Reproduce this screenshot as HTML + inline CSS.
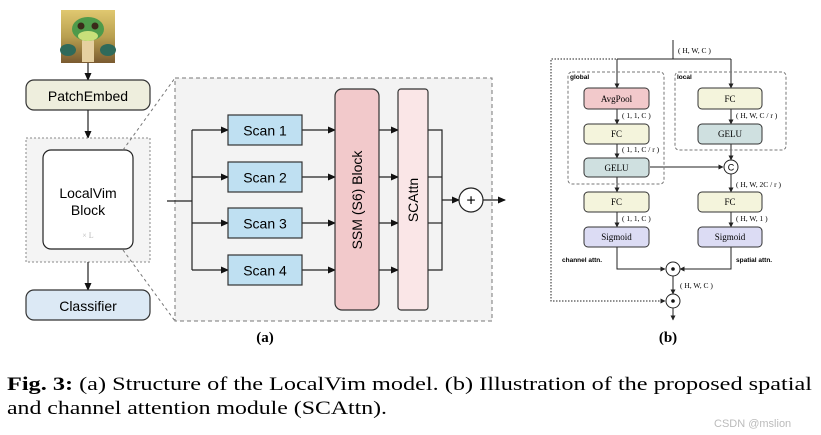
<!DOCTYPE html>
<html><head><meta charset="utf-8"><style>
body{margin:0;background:#fff;width:821px;height:435px;overflow:hidden}
svg{display:block}
.s{font-family:"Liberation Sans",sans-serif}
.r{font-family:"Liberation Serif",serif}
</style></head><body>
<svg width="821" height="435" viewBox="0 0 821 435" xmlns="http://www.w3.org/2000/svg">
<defs>
<marker id="a" markerWidth="8" markerHeight="8" refX="7" refY="4" orient="auto" markerUnits="userSpaceOnUse"><path d="M0,0.5 L8,4 L0,7.5z" fill="#111"/></marker>
<marker id="b" markerWidth="5" markerHeight="5" refX="4.5" refY="2.5" orient="auto" markerUnits="userSpaceOnUse"><path d="M0,0 L5,2.5 L0,5z" fill="#222"/></marker>
<linearGradient id="g" x1="0" y1="0" x2="0" y2="1"><stop offset="0" stop-color="#e0c870"/><stop offset="0.5" stop-color="#b9a050"/><stop offset="1" stop-color="#7a5a30"/></linearGradient>
</defs>
<!-- panel a -->
<rect x="61" y="10" width="54" height="53" fill="url(#g)"/>
<ellipse cx="68" cy="50" rx="8" ry="6" fill="#2f6a5a"/>
<ellipse cx="108" cy="50" rx="8" ry="6" fill="#2f6a5a"/>
<rect x="82" y="40" width="12" height="22" fill="#e6d0a0"/>
<ellipse cx="88" cy="29" rx="16" ry="12" fill="#4e9a4a"/>
<ellipse cx="88" cy="36" rx="10" ry="5" fill="#c8e07a"/>
<circle cx="81" cy="26" r="3.5" fill="#3a2a1a"/><circle cx="95" cy="26" r="3.5" fill="#3a2a1a"/>
<line x1="88" y1="63" x2="88" y2="80" stroke="#222" stroke-width="1.2" marker-end="url(#a)"/>
<rect x="26" y="80" width="124" height="30" rx="8" fill="#eeeedd" stroke="#333" stroke-width="1.2"/>
<text x="88" y="101" class="s" font-size="14" text-anchor="middle">PatchEmbed</text>
<line x1="88" y1="110" x2="88" y2="138" stroke="#222" stroke-width="1.2" marker-end="url(#a)"/>
<rect x="26" y="138" width="124" height="124" fill="#f4f4f4" stroke="#888" stroke-dasharray="2,2"/>
<rect x="43" y="150" width="90" height="99" rx="8" fill="#fff" stroke="#222" stroke-width="1.2"/>
<text x="88" y="198" class="s" font-size="14" text-anchor="middle">LocalVim</text>
<text x="88" y="215" class="s" font-size="14" text-anchor="middle">Block</text>
<text x="88" y="238" class="r" font-size="8" fill="#bbb" text-anchor="middle">× L</text>
<line x1="88" y1="262" x2="88" y2="290" stroke="#222" stroke-width="1.2" marker-end="url(#a)"/>
<rect x="26" y="290" width="124" height="30" rx="8" fill="#dce9f5" stroke="#333" stroke-width="1.2"/>
<text x="88" y="311" class="s" font-size="14" text-anchor="middle">Classifier</text>
<line x1="123" y1="150" x2="175" y2="78" stroke="#777" stroke-dasharray="3,3"/>
<line x1="123" y1="250" x2="175" y2="321" stroke="#777" stroke-dasharray="3,3"/>
<rect x="175" y="78" width="317" height="243" fill="#f3f3f3" stroke="#777" stroke-dasharray="4,3"/>
<g stroke="#222" stroke-width="1.2" fill="none">
<line x1="167" y1="201" x2="192" y2="201"/>
<line x1="192" y1="130" x2="192" y2="270"/>
<line x1="192" y1="130" x2="228" y2="130" marker-end="url(#a)"/>
<line x1="192" y1="177" x2="228" y2="177" marker-end="url(#a)"/>
<line x1="192" y1="223" x2="228" y2="223" marker-end="url(#a)"/>
<line x1="192" y1="270" x2="228" y2="270" marker-end="url(#a)"/>
<line x1="302" y1="130" x2="335" y2="130" marker-end="url(#a)"/>
<line x1="302" y1="177" x2="335" y2="177" marker-end="url(#a)"/>
<line x1="302" y1="223" x2="335" y2="223" marker-end="url(#a)"/>
<line x1="302" y1="270" x2="335" y2="270" marker-end="url(#a)"/>
<line x1="379" y1="130" x2="398" y2="130" marker-end="url(#a)"/>
<line x1="379" y1="177" x2="398" y2="177" marker-end="url(#a)"/>
<line x1="379" y1="223" x2="398" y2="223" marker-end="url(#a)"/>
<line x1="379" y1="270" x2="398" y2="270" marker-end="url(#a)"/>
<polyline points="428,130 442,130 442,270 428,270"/>
<line x1="428" y1="177" x2="442" y2="177"/>
<line x1="428" y1="223" x2="442" y2="223"/>
<line x1="442" y1="200" x2="459" y2="200" marker-end="url(#a)"/>
<line x1="483" y1="200" x2="505" y2="200" marker-end="url(#a)"/>
</g>
<g class="s" font-size="14" text-anchor="middle">
<rect x="228" y="115" width="74" height="30" fill="#bfe0f2" stroke="#333" stroke-width="1.2"/><text x="265" y="135.5">Scan 1</text>
<rect x="228" y="162" width="74" height="30" fill="#bfe0f2" stroke="#333" stroke-width="1.2"/><text x="265" y="182.5">Scan 2</text>
<rect x="228" y="208" width="74" height="30" fill="#bfe0f2" stroke="#333" stroke-width="1.2"/><text x="265" y="228.5">Scan 3</text>
<rect x="228" y="255" width="74" height="30" fill="#bfe0f2" stroke="#333" stroke-width="1.2"/><text x="265" y="275.5">Scan 4</text>
</g>
<rect x="335" y="89" width="44" height="221" rx="7" fill="#f2c9cb" stroke="#333" stroke-width="1.2"/>
<text transform="translate(362,200) rotate(-90)" class="s" font-size="14" text-anchor="middle">SSM (S6) Block</text>
<rect x="398" y="89" width="30" height="221" rx="3" fill="#fae6e7" stroke="#333" stroke-width="1.2"/>
<text transform="translate(418,200) rotate(-90)" class="s" font-size="14" text-anchor="middle">SCAttn</text>
<circle cx="471" cy="200" r="12" fill="#fff" stroke="#222" stroke-width="1.2"/>
<text x="471" y="205.5" class="s" font-size="16" text-anchor="middle">+</text>
<text x="265" y="342" class="r" font-size="15" font-weight="bold" text-anchor="middle">(a)</text>

<!-- panel b -->
<g stroke="#222" stroke-width="1" fill="none">
<line x1="673" y1="40" x2="673" y2="59"/>
<line x1="617" y1="59" x2="731" y2="59"/>
<line x1="617" y1="59" x2="617" y2="88" marker-end="url(#b)"/>
<line x1="731" y1="59" x2="731" y2="88" marker-end="url(#b)"/>
<polyline points="673,59 551,59 551,301 665,301" stroke-dasharray="1.5,1.5" marker-end="url(#b)"/>
<line x1="617" y1="109" x2="617" y2="124" marker-end="url(#b)"/>
<line x1="617" y1="144" x2="617" y2="158" marker-end="url(#b)"/>
<line x1="617" y1="177" x2="617" y2="192" marker-end="url(#b)"/>
<line x1="617" y1="212" x2="617" y2="227" marker-end="url(#b)"/>
<line x1="731" y1="109" x2="731" y2="124" marker-end="url(#b)"/>
<line x1="731" y1="144" x2="731" y2="160" marker-end="url(#b)"/>
<line x1="650" y1="167" x2="723" y2="167" marker-end="url(#b)"/>
<line x1="731" y1="174" x2="731" y2="192" marker-end="url(#b)"/>
<line x1="731" y1="212" x2="731" y2="227" marker-end="url(#b)"/>
<polyline points="617,247 617,269 665,269" marker-end="url(#b)"/>
<polyline points="731,247 731,269 680,269" marker-end="url(#b)"/>
<line x1="673" y1="276" x2="673" y2="294" marker-end="url(#b)"/>
<line x1="673" y1="308" x2="673" y2="320" marker-end="url(#b)"/>
</g>
<rect x="568" y="72" width="96" height="112" rx="4" fill="none" stroke="#777" stroke-dasharray="3,2"/>
<rect x="675" y="72" width="111" height="78" rx="4" fill="none" stroke="#777" stroke-dasharray="3,2"/>
<g class="r" font-size="9" text-anchor="middle">
<rect x="584" y="88" width="65" height="21" rx="4" fill="#f2c9cb" stroke="#333"/><text x="616.5" y="102">AvgPool</text>
<rect x="584" y="124" width="65" height="20" rx="4" fill="#f4f4dc" stroke="#333"/><text x="616.5" y="137">FC</text>
<rect x="584" y="158" width="65" height="19" rx="4" fill="#cfe0e0" stroke="#333"/><text x="616.5" y="171">GELU</text>
<rect x="584" y="192" width="65" height="20" rx="4" fill="#f4f4dc" stroke="#333"/><text x="616.5" y="205">FC</text>
<rect x="584" y="227" width="65" height="20" rx="4" fill="#dcdcf4" stroke="#333"/><text x="616.5" y="240">Sigmoid</text>
<rect x="698" y="88" width="64" height="21" rx="4" fill="#f4f4dc" stroke="#333"/><text x="730" y="102">FC</text>
<rect x="698" y="124" width="64" height="20" rx="4" fill="#cfe0e0" stroke="#333"/><text x="730" y="137">GELU</text>
<rect x="698" y="192" width="64" height="20" rx="4" fill="#f4f4dc" stroke="#333"/><text x="730" y="205">FC</text>
<rect x="698" y="227" width="64" height="20" rx="4" fill="#dcdcf4" stroke="#333"/><text x="730" y="240">Sigmoid</text>
</g>
<circle cx="731" cy="167" r="7" fill="#fff" stroke="#222"/>
<text x="731" y="170.5" class="s" font-size="9" text-anchor="middle">C</text>
<circle cx="673" cy="269" r="7" fill="#fff" stroke="#222"/><circle cx="673" cy="269" r="1.8" fill="#111"/>
<circle cx="673" cy="301" r="7" fill="#fff" stroke="#222"/><circle cx="673" cy="301" r="1.8" fill="#111"/>
<g class="r" font-size="7.5">
<text x="678" y="53">( H, W, C )</text>
<text x="622" y="118">( 1, 1, C )</text>
<text x="622" y="152">( 1, 1, C / r )</text>
<text x="622" y="221">( 1, 1, C )</text>
<text x="736" y="118">( H, W, C / r )</text>
<text x="736" y="187">( H, W, 2C / r )</text>
<text x="736" y="221">( H, W, 1 )</text>
<text x="680" y="288">( H, W, C )</text>
</g>
<g class="s" font-size="6.5" font-weight="bold">
<text x="570" y="79">global</text>
<text x="677" y="79">local</text>
<text x="562" y="262">channel attn.</text>
<text x="736" y="262">spatial attn.</text>
</g>
<text x="668" y="342" class="r" font-size="15" font-weight="bold" text-anchor="middle">(b)</text>

<!-- caption -->
<text x="7" y="390" class="r" font-size="19" textLength="805" lengthAdjust="spacingAndGlyphs"><tspan font-weight="bold">Fig. 3:</tspan> (a) Structure of the LocalVim model. (b) Illustration of the proposed spatial</text>
<text x="7" y="414" class="r" font-size="19" textLength="380" lengthAdjust="spacingAndGlyphs">and channel attention module (SCAttn).</text>
<text x="714" y="427" class="s" font-size="11" fill="#bbb">CSDN @mslion</text>
</svg>
</body></html>
